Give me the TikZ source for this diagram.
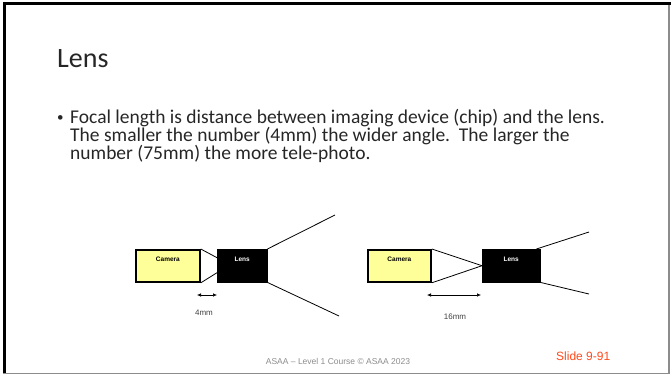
\documentclass[tikz,border=0pt]{standalone}
\usepackage{fontspec}
\setmainfont{Carlito}
\newfontfamily\arialfont{Liberation Sans}
\usetikzlibrary{arrows.meta}
\definecolor{camyellow}{HTML}{FFFF99}
\definecolor{footgray}{HTML}{8C8C8C}
\definecolor{slidered}{HTML}{FF4A1C}
\tikzset{
  camerabox/.style={draw=black, line width=1.8pt, fill=camyellow, anchor=north west, inner sep=0pt},
  lensbox/.style={draw=black, fill=black, anchor=north west, inner sep=0pt},
  tag/.style={font=\arialfont\bfseries\fontsize{6.5}{7}\selectfont, inner sep=0pt},
  ray/.style={line width=0.8pt},
  gap/.style={line width=0.6pt, {Latex[length=4pt,width=3.5pt]}-{Latex[length=4pt,width=3.5pt]}},
  dim/.style={font=\arialfont\fontsize{8}{9}\selectfont, text=black!75, inner sep=0pt},
  bodytext/.style={font=\fontsize{19.5}{18}\selectfont, text=black!85, anchor=base west, inner sep=0pt}
}
\begin{document}
\begin{tikzpicture}[x=1pt, y=-1pt]
    \useasboundingbox (0,0) rectangle (671,376);
    % slide frame
    \draw[line width=3pt] (4,374) -- (4,3) -- (671,3);
    \draw[footgray, line width=1.5pt] (669,5) -- (669,373.5) -- (3,373.5);
    % title and bullet text
    \node[font=\fontsize{28}{30}\selectfont, text=black!85, anchor=base west, inner sep=0pt] (title) at (57,67) {Lens};
    \node[bodytext, font=\fontsize{13}{18}\selectfont] (bullet) at (57,121) {•};
    \node[bodytext] (line1) at (70,123) {Focal length is distance between imaging device (chip) and the lens.};
    \node[bodytext] (line2) at (70,141) {The smaller the number (4mm) the wider angle.\ \ The larger the};
    \node[bodytext] (line3) at (70,159) {number (75mm) the more tele-photo.};
    % wide angle, 4mm
    \node[camerabox, minimum width=64pt, minimum height=32pt] (cam1) at (135,249) {};
    \node[tag] (cam1txt) at ([yshift=-10pt]cam1.north) {Camera};
    \node[lensbox, minimum width=50pt, minimum height=33pt] (lens1) at (217,249) {};
    \node[tag, text=white] (lens1txt) at ([yshift=-10pt]lens1.north) {Lens};
    \coordinate (far1a) at (335,215);
    \coordinate (far1b) at (339,316);
    \draw[ray] (cam1.north east) -- ([yshift=8pt]lens1.west);
    \draw[ray] (cam1.south east) -- ([yshift=-7pt]lens1.west);
    \draw[ray] (lens1.north east) -- (far1a);
    \draw[ray] (lens1.south east) -- (far1b);
    \coordinate (gap1a) at (197,295);
    \coordinate (gap1b) at (217,295);
    \draw[gap] (gap1a) -- (gap1b);
    \node[dim, anchor=base] (mm4) at (204,315) {4mm};
    % tele, 16mm
    \node[camerabox, minimum width=63pt, minimum height=32pt] (cam2) at (367,249) {};
    \node[tag] (cam2txt) at ([yshift=-10pt]cam2.north) {Camera};
    \node[lensbox, minimum width=58pt, minimum height=33pt] (lens2) at (482,249) {};
    \node[tag, text=white] (lens2txt) at ([yshift=-10pt]lens2.north) {Lens};
    \coordinate (far2a) at (589,232);
    \coordinate (far2b) at (589,294);
    \draw[ray] (cam2.north east) -- (lens2.west);
    \draw[ray] (cam2.south east) -- (lens2.west);
    \draw[ray] ([xshift=-4pt]lens2.north east) -- (far2a);
    \draw[ray] (lens2.south east) -- (far2b);
    \coordinate (gap2a) at (427,295);
    \coordinate (gap2b) at (481,295);
    \draw[gap] (gap2a) -- (gap2b);
    \node[dim, anchor=base] (mm16) at (455,319) {16mm};
    % footer
    \node[font=\arialfont\fontsize{8.5}{9}\selectfont, text=footgray, anchor=base, inner sep=0pt] (foot) at (338,364) {ASAA – Level 1 Course © ASAA 2023};
    \node[font=\arialfont\fontsize{12}{13}\selectfont, text=slidered, anchor=base west, inner sep=0pt] (slide) at (556,360) {Slide 9-91};
\end{tikzpicture}
\end{document}
